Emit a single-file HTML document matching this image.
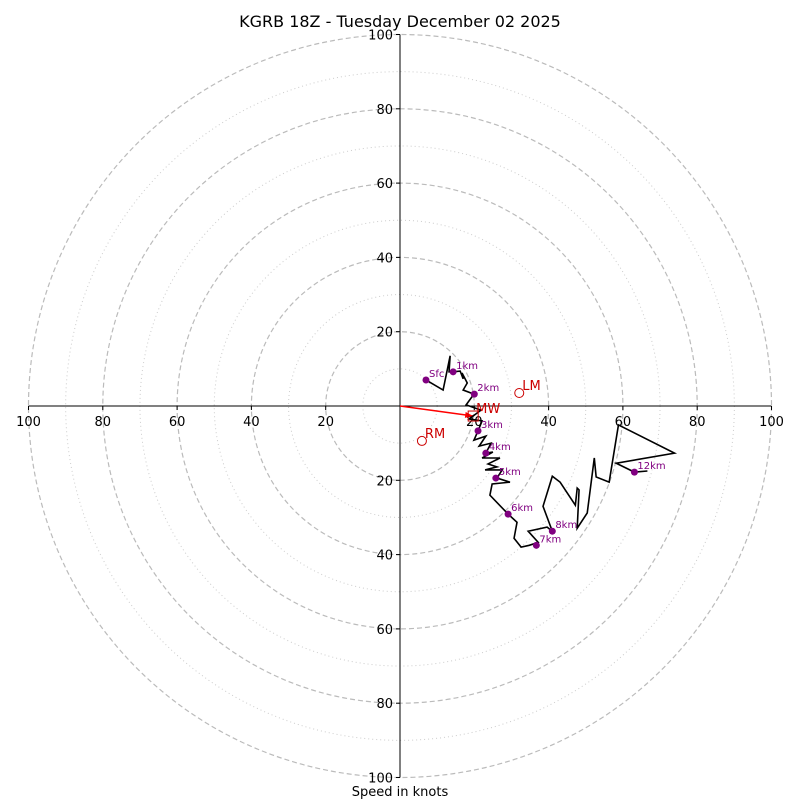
<!DOCTYPE html>
<html><head><meta charset="utf-8"><style>
body{margin:0;background:#fff}
svg text{font-family:"DejaVu Sans","Liberation Sans",sans-serif}
</style></head><body>
<svg id="c" width="800" height="800" xmlns="http://www.w3.org/2000/svg">
<text x="400" y="27" text-anchor="middle" font-size="16">KGRB 18Z - Tuesday December 02 2025</text>
<text x="400" y="796" text-anchor="middle" font-size="13">Speed in knots</text>
</svg>
<script>
const ringMajor=[20,40,60,80,100];
const ringMinor=[10,30,50,70,90];
const tickVals=[20,40,60,80,100];
// hodograph trace (u, v) in knots
const traceU=[7.0,11.6,13.5,13.2,14.3,16.2,17.0,16.7,18.1,17.0,19.9,17.8,21.8,18.6,22.1,21.0,19.9,23.1,21.3,24.5,23.1,25.0,22.1,26.9,23.7,26.1,22.9,27.5,26.1,29.6,24.8,24.2,29.1,31.5,30.7,32.6,34.8,37.2,34.5,39.6,41.0,38.5,41.0,43.1,47.2,47.7,48.2,47.7,50.4,52.3,52.8,56.3,58.8,73.9,58.2,63.1,66.6];
const traceV=[7.0,4.3,13.5,9.2,9.2,9.4,7.3,8.9,6.2,4.3,3.2,0.3,-1.1,-3.5,-4.0,-6.7,-9.2,-8.1,-10.8,-10.0,-12.7,-12.4,-14.0,-14.0,-15.6,-16.4,-17.2,-17.2,-19.4,-20.5,-21.0,-24.0,-29.1,-31.3,-35.6,-38.0,-37.5,-36.7,-33.7,-32.6,-33.7,-27.0,-18.9,-20.5,-26.7,-22.1,-22.6,-32.9,-28.8,-14.0,-19.1,-20.5,-5.1,-12.7,-15.4,-17.8,-17.5];
const levelNames=["Sfc","1km","2km","3km","4km","5km","6km","7km","8km","12km"];
const levelU=[7.0,14.3,20.0,21.0,23.1,25.8,29.1,36.7,41.0,63.1];
const levelV=[7.0,9.2,3.2,-6.7,-12.7,-19.4,-29.1,-37.5,-33.7,-17.8];
const motionNames=["MW","LM","RM"];
const motionU=[19.7,32.1,5.9];
const motionV=[-2.7,3.5,-9.4];

const NS="http://www.w3.org/2000/svg",svg=document.getElementById('c');
const cx=400,cy=406,R=371.5;
const sx=u=>cx+u*R/100, sy=v=>cy-v*R/100, sr=k=>k*R/100;
function el(t,a,parent){const e=document.createElementNS(NS,t);for(const k in a)e.setAttribute(k,a[k]);(parent||svg).appendChild(e);return e;}
ringMinor.forEach(r=>{const e=el('circle',{cx:cx,cy:cy,r:sr(r),fill:'none',stroke:'#ccc','stroke-width':1,'stroke-dasharray':'1,3'});

});
ringMajor.forEach(r=>{const e=el('circle',{cx:cx,cy:cy,r:sr(r),fill:'none',stroke:'#bbb','stroke-width':1.2,'stroke-dasharray':'5,3'});

});
let a1=el('line',{x1:sx(-100),y1:cy,x2:sx(100),y2:cy,stroke:'#000','stroke-width':1});


let a2=el('line',{x1:cx,y1:sy(100),x2:cx,y2:sy(-100),stroke:'#000','stroke-width':1});


tickVals.forEach(t=>{[-1,1].forEach(s=>{
 el('line',{x1:sx(s*t),y1:cy,x2:sx(s*t),y2:cy+4,stroke:'#000'});
 el('line',{x1:cx,y1:sy(s*t),x2:cx-4,y2:sy(s*t),stroke:'#000'});
 const tx=el('text',{x:sx(s*t),y:cy+20,'text-anchor':'middle','font-size':13});tx.textContent=t;
 
 
 const ty=el('text',{x:cx-7,y:sy(s*t)+5,'text-anchor':'end','font-size':13});ty.textContent=t;
 
 
});});
const ar=el('line',{x1:cx,y1:cy,x2:sx(motionU[0]),y2:sy(motionV[0]),stroke:'red','stroke-width':1.5});


const ang=Math.atan2(sy(motionV[0])-cy,sx(motionU[0])-cx),hx=sx(motionU[0]),hy=sy(motionV[0]);
el('polygon',{points:`${hx},${hy} ${hx-8*Math.cos(ang)+3*Math.sin(ang)},${hy-8*Math.sin(ang)-3*Math.cos(ang)} ${hx-8*Math.cos(ang)-3*Math.sin(ang)},${hy-8*Math.sin(ang)+3*Math.cos(ang)}`,fill:'red'});
let pts=traceU.map((u,i)=>sx(u)+','+sy(traceV[i])).join(' ');
const tr=el('polyline',{points:pts,fill:'none',stroke:'#000','stroke-width':1.6,'stroke-linejoin':'miter'});


levelNames.forEach((n,i)=>{
 const c=el('circle',{cx:sx(levelU[i]),cy:sy(levelV[i]),r:3.5,fill:'purple'});
 
 
 const t=el('text',{x:sx(levelU[i])+3,y:sy(levelV[i])-3,'font-size':10,fill:'purple'});t.textContent=n;
 
 
});
motionNames.forEach((n,i)=>{
 const x=sx(motionU[i]),y=sy(motionV[i]);
 let m;
 if(i===0)m=el('rect',{x:x-5,y:y-5,width:10,height:10,fill:'none',stroke:'#c00','stroke-width':1});
 else m=el('circle',{cx:x,cy:y,r:4.5,fill:'none',stroke:'#c00','stroke-width':1});
 
 
 const t=el('text',{x:x+3,y:y-3,'font-size':13,fill:'#c00'});t.textContent=n;
 
 
});
</script>
</body></html>
